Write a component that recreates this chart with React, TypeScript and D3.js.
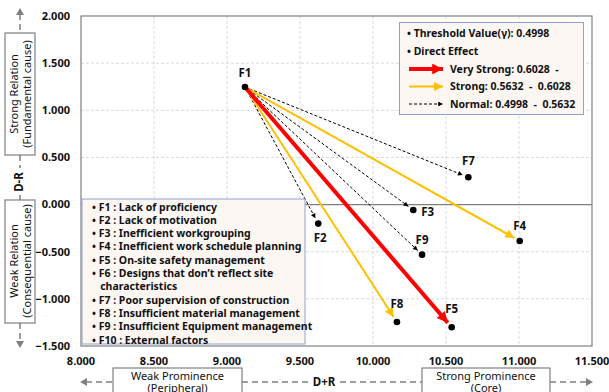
import React from 'react';
import * as d3 from 'd3';

// D+R (prominence) and D-R (relation) per factor
const factors = ['F1', 'F2', 'F3', 'F4', 'F5', 'F7', 'F8', 'F9'];
const prominence = [9.123, 9.625, 10.276, 11.005, 10.539, 10.653, 10.164, 10.336];
const relation = [1.247, -0.202, -0.057, -0.386, -1.301, 0.289, -1.245, -0.531];

// direct effects from F1
const effectTargets = ['F7', 'F4', 'F3', 'F9', 'F5', 'F8', 'F2'];
const effectLevels = ['normal', 'strong', 'normal', 'normal', 'veryStrong', 'strong', 'normal'];

const xTicks = [8, 8.5, 9, 9.5, 10, 10.5, 11, 11.5];
const yTicks = [2, 1.5, 1, 0.5, 0, -0.5, -1, -1.5];

const factorNames = [
  '• F1 : Lack of proficiency',
  '• F2 : Lack of motivation',
  '• F3 : Inefficient workgrouping',
  '• F4 : Inefficient work schedule planning',
  '• F5 : On-site safety management',
  '• F6 : Designs that don\u2019t reflect site',
  '   characteristics',
  '• F7 : Poor supervision of construction',
  '• F8 : Insufficient material management',
  '• F9 : Insufficient Equipment management',
  '• F10 : External factors',
];

const legendRows = [
  { level: 'veryStrong', text: 'Very Strong: 0.6028  -' },
  { level: 'strong', text: 'Strong: 0.5632  -  0.6028' },
  { level: 'normal', text: 'Normal: 0.4998  -  0.5632' },
];

const styles: Record<string, { color: string; width: number; dash?: string; head: number }> = {
  veryStrong: { color: '#ff0000', width: 4, head: 12 },
  strong: { color: '#ffc000', width: 2, head: 10 },
  normal: { color: '#000000', width: 1, dash: '3,2', head: 6 },
};

// label offsets per factor
const labelPos: Record<string, [number, number, string]> = {
  F1: [0, -10, 'middle'],
  F2: [2, 18, 'middle'],
  F3: [8, 6, 'start'],
  F4: [0, -11, 'middle'],
  F5: [0, -14, 'middle'],
  F7: [0, -12, 'middle'],
  F8: [0, -14, 'middle'],
  F9: [0, -11, 'middle'],
};

const font = '"Malgun Gothic", "Noto Sans", sans-serif';

export default function App() {
  const left = 81, right = 592, top = 16, bottom = 346;
  const x = d3.scaleLinear().domain([8, 11.5]).range([left, right]);
  const y = d3.scaleLinear().domain([-1.5, 2]).range([bottom, top]);
  const fmt = d3.format('.3f');

  const pt = (f: string) => {
    const i = factors.indexOf(f);
    return [x(prominence[i]), y(relation[i])];
  };

  const [sx, sy] = pt('F1');
  const arrows = effectTargets.map((t, i) => {
    const [tx, ty] = pt(t);
    const len = Math.hypot(tx - sx, ty - sy);
    const k = (len - 6) / len;
    return { t, level: effectLevels[i], x2: sx + (tx - sx) * k, y2: sy + (ty - sy) * k };
  });
  // draw normal first, then strong, then very strong on top
  const order = ['normal', 'strong', 'veryStrong'];
  arrows.sort((a, b) => order.indexOf(a.level) - order.indexOf(b.level));

  return (
    <svg width={609} height={392} style={{ position: 'absolute', left: 0, top: 0, background: '#fff' }}>
      <defs>
        {Object.entries(styles).map(([k, s]) => (
          <marker key={k} id={'head-' + k} markerUnits="userSpaceOnUse" viewBox="0 0 10 10"
            refX={10} refY={5} markerWidth={s.head} markerHeight={s.head * (k === 'normal' ? 0.8 : 0.9)} orient="auto">
            <path d="M0,0 L10,5 L0,10 z" fill={s.color} />
          </marker>
        ))}
      </defs>

      {/* grid */}
      {xTicks.slice(1, -1).map(t => (
        <line key={'gx' + t} x1={x(t)} x2={x(t)} y1={top} y2={bottom} stroke="#d9d9d9" strokeDasharray="3,2" />
      ))}
      {yTicks.slice(1, -1).filter(t => t !== 0).map(t => (
        <line key={'gy' + t} x1={left} x2={right} y1={y(t)} y2={y(t)} stroke="#d9d9d9" strokeDasharray="3,2" />
      ))}
      <line x1={left} x2={right} y1={y(0)} y2={y(0)} stroke="#7f7f7f" strokeWidth={1.2} />
      <rect x={left} y={top} width={right - left} height={bottom - top} fill="none" stroke="#7f7f7f" strokeWidth={1.2} />

      {/* tick labels */}
      {yTicks.map(t => (
        <text key={'ty' + t} x={70} y={y(t)} dy="0.35em" textAnchor="end" fontFamily={font}
          fontWeight="bold" fontSize={11} fill="#111">{fmt(t)}</text>
      ))}
      {xTicks.map(t => (
        <text key={'tx' + t} x={x(t)} y={364.5} textAnchor="middle" fontFamily={font}
          fontWeight="bold" fontSize={11} fill="#111">{fmt(t)}</text>
      ))}

      {/* arrows */}
      {arrows.map(a => {
        const s = styles[a.level];
        return (
          <line key={'a' + a.t} x1={sx} y1={sy} x2={a.x2} y2={a.y2} stroke={s.color}
            strokeWidth={s.width} strokeDasharray={s.dash} markerEnd={`url(#head-${a.level})`} />
        );
      })}

      {/* points */}
      {factors.map(f => {
        const [px, py] = pt(f);
        const [dx, dy, anchor] = labelPos[f];
        return (
          <g key={f}>
            <circle cx={px} cy={py} r={3.3} fill="#000" />
            <text x={px + dx} y={py + dy} textAnchor={anchor as any} fontFamily={font}
              fontWeight="bold" fontSize={11.5} fill="#111">{f}</text>
          </g>
        );
      })}

      {/* factor list box */}
      <rect x={82} y={199} width={223} height={145} fill="#fdf7f3" stroke="#8ea2cf" strokeWidth={1} />
      {factorNames.map((n, i) => (
        <text key={'n' + i} x={92} y={210.5 + i * 13.3} fontFamily={font} fontWeight="bold"
          fontSize={10.5} fill="#111" style={{ whiteSpace: 'pre' }}>{n}</text>
      ))}

      {/* effect legend box */}
      <rect x={399.5} y={22.5} width={184} height={92} fill="#fdf7f3" stroke="#8ea2cf" strokeWidth={1} />
      <text x={407} y={37} fontFamily={font} fontWeight="bold" fontSize={10.5} fill="#111">• Threshold Value(γ): 0.4998</text>
      <text x={407} y={55} fontFamily={font} fontWeight="bold" fontSize={10.5} fill="#111">• Direct Effect</text>
      {legendRows.map((r, i) => {
        const s = styles[r.level];
        const ly = 69 + i * 17.5;
        return (
          <g key={r.level}>
            <line x1={409} x2={443} y1={ly} y2={ly} stroke={s.color} strokeWidth={s.width}
              strokeDasharray={s.dash} markerEnd={`url(#head-${r.level})`} />
            <text x={450} y={ly} dy="0.35em" fontFamily={font} fontWeight="bold" fontSize={10.5}
              fill="#111" style={{ whiteSpace: 'pre' }}>{r.text}</text>
          </g>
        );
      })}

      {/* y-axis annotation */}
      <g stroke="#808080" strokeWidth={1.5} strokeDasharray="6,4" fill="none">
        <line x1={20} x2={20} y1={14} y2={33} />
        <line x1={20} x2={20} y1={155} y2={168} />
        <line x1={20} x2={20} y1={195} y2={200} />
        <line x1={20} x2={20} y1={323} y2={342} />
      </g>
      <path d="M16,15 L20,8 L24,15 z" fill="#808080" />
      <path d="M16,341 L20,348 L24,341 z" fill="#808080" />
      <rect x={5} y={33} width={30} height={122} fill="#fff" stroke="#808080" strokeWidth={1.2} />
      <rect x={5} y={200} width={30} height={123} fill="#fff" stroke="#808080" strokeWidth={1.2} />
      <text transform="translate(20,94) rotate(-90)" textAnchor="middle" fontFamily={font} fontSize={11} fill="#111">
        <tspan x={0} dy={-2}>Strong Relation</tspan>
        <tspan x={0} dy={13}>(Fundamental cause)</tspan>
      </text>
      <text transform="translate(20,261) rotate(-90)" textAnchor="middle" fontFamily={font} fontSize={11} fill="#111">
        <tspan x={0} dy={-2}>Weak Relation</tspan>
        <tspan x={0} dy={13}>(Consequential cause)</tspan>
      </text>
      <text transform="translate(19,182) rotate(-90)" textAnchor="middle" dy="0.35em" fontFamily={font} fontWeight="bold"
        fontSize={11.5} fill="#111">D-R</text>

      {/* x-axis annotation */}
      <g stroke="#808080" strokeWidth={1.5} strokeDasharray="6,4" fill="none">
        <line x1={86} x2={113} y1={382} y2={382} />
        <line x1={242} x2={308} y1={382} y2={382} />
        <line x1={340} x2={422} y1={382} y2={382} />
        <line x1={550} x2={586} y1={382} y2={382} />
      </g>
      <path d="M87,378 L80,382 L87,386 z" fill="#808080" />
      <path d="M586,378 L593,382 L586,386 z" fill="#808080" />
      <rect x={113} y={368} width={129} height={30} fill="#fff" stroke="#808080" strokeWidth={1.2} />
      <rect x={422} y={368} width={128} height={30} fill="#fff" stroke="#808080" strokeWidth={1.2} />
      <text x={177.5} y={379.5} textAnchor="middle" fontFamily={font} fontSize={11} fill="#111">Weak Prominence</text>
      <text x={177.5} y={391.5} textAnchor="middle" fontFamily={font} fontSize={11} fill="#111">(Peripheral)</text>
      <text x={486} y={379.5} textAnchor="middle" fontFamily={font} fontSize={11} fill="#111">Strong Prominence</text>
      <text x={486} y={391.5} textAnchor="middle" fontFamily={font} fontSize={11} fill="#111">(Core)</text>
      <text x={324} y={386} textAnchor="middle" fontFamily={font} fontWeight="bold" fontSize={11.5} fill="#111">D+R</text>
    </svg>
  );
}
